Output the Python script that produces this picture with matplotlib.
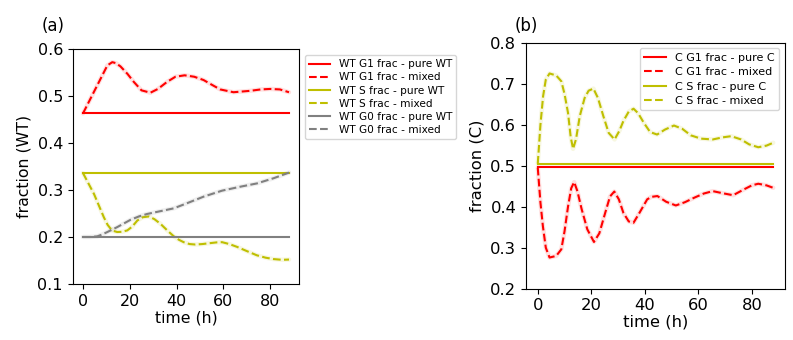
import matplotlib
matplotlib.use("Agg")
import matplotlib.pyplot as plt

# ---------------- data: panel (a) WT ----------------
t_pure = [0, 88]
wt_g1_pure = 0.463
wt_s_pure = 0.336
wt_g0_pure = 0.200

t_wt_g1_mix = [0, 10.4, 12.5, 14, 16, 19, 21.7, 25, 28.8, 32, 35.9, 39.5, 43.4, 47.5,
               51.5, 55, 58.6, 64.3, 71.4, 76, 79.9, 84.1, 88]
wt_g1_mix = [0.463, 0.565, 0.572, 0.570, 0.563, 0.547, 0.530, 0.512, 0.507, 0.515, 0.530,
             0.541, 0.544, 0.541, 0.534, 0.524, 0.514, 0.508, 0.511, 0.514, 0.515, 0.514, 0.508]

t_wt_s_mix = [0, 4.7, 8.9, 10.5, 11.8, 13, 14.6, 16.5, 18.9, 21, 23.2, 25.5, 28.1, 30.5,
              33.1, 36, 38.8, 41, 43, 45.5, 48, 51, 54.4, 57, 59.4, 62.5, 65.8, 70, 74.3,
              78, 81.4, 85, 88]
wt_s_mix = [0.336, 0.2915, 0.242, 0.226, 0.2176, 0.213, 0.2106, 0.211, 0.214, 0.222, 0.235,
            0.242, 0.2437, 0.238, 0.228, 0.214, 0.2014, 0.194, 0.189, 0.185, 0.184, 0.185,
            0.187, 0.1885, 0.189, 0.185, 0.179, 0.170, 0.161, 0.156, 0.153, 0.1515, 0.152]

t_wt_g0_mix = [0, 3, 6.1, 8, 10.4, 14.6, 20.3, 24, 27.4, 33.1, 38.8, 44.5, 51.6, 59.4,
               67.2, 74.3, 81.4, 88]
wt_g0_mix = [0.200, 0.200, 0.2014, 0.205, 0.2106, 0.221, 0.2366, 0.244, 0.249, 0.255, 0.261,
             0.272, 0.286, 0.2986, 0.307, 0.314, 0.325, 0.337]

# ---------------- data: panel (b) C ----------------
c_g1_pure = 0.496
c_s_pure = 0.505

t_c_s_mix = [0, 1, 2, 3, 4.4, 6.9, 8.8, 10, 11.3, 12.3, 13.2, 14.3, 15.7, 17.5, 19, 20.8,
             22.5, 24.5, 26.5, 28.7, 30.5, 32, 34, 35.8, 37.5, 39.6, 42, 44.6, 47.5, 50.9,
             54, 57.2, 61, 65.4, 69, 72.3, 76, 79, 82.4, 85.5, 88]
c_s_mix = [0.505, 0.60, 0.67, 0.71, 0.725, 0.720, 0.706, 0.675, 0.629, 0.57, 0.541, 0.565,
           0.621, 0.665, 0.683, 0.688, 0.665, 0.621, 0.580, 0.564, 0.585, 0.609, 0.632, 0.639,
           0.628, 0.605, 0.582, 0.576, 0.588, 0.598, 0.590, 0.574, 0.566, 0.564, 0.569, 0.572,
           0.564, 0.552, 0.545, 0.549, 0.556]

t_c_g1_mix = [0, 1, 1.9, 3, 4.4, 6.9, 8.8, 10, 11.3, 12.5, 13.6, 14.8, 16.4, 18.5, 21, 23,
              25.2, 27, 28.6, 30.3, 32, 34, 35.8, 38, 40.9, 42.5, 44.7, 48, 51.6, 55, 58.5,
              62, 65.4, 69, 73, 77, 80, 82.4, 85.5, 88]
c_g1_mix = [0.495, 0.41, 0.353, 0.30, 0.276, 0.280, 0.296, 0.34, 0.40, 0.445, 0.46, 0.438,
            0.394, 0.345, 0.314, 0.335, 0.385, 0.425, 0.437, 0.418, 0.385, 0.364, 0.361, 0.385,
            0.418, 0.424, 0.426, 0.412, 0.403, 0.411, 0.422, 0.432, 0.438, 0.433, 0.428, 0.442,
            0.452, 0.456, 0.452, 0.446]

xticks = [0, 20, 40, 60, 80]
yticks_a = [0.1, 0.2, 0.3, 0.4, 0.5, 0.6]
yticks_b = [0.2, 0.3, 0.4, 0.5, 0.6, 0.7, 0.8]

RED = "#ff0000"
YEL = "#bfbf00"
GRY = "#808080"

W, H = 793, 340
fig = plt.figure(figsize=(W / 100, H / 100), dpi=100)


def box(l, t, r, b):
    return [l / W, 1 - b / H, (r - l) / W, (b - t) / H]


def mixed(ax, t, v, c, label):
    ax.plot(t, v, color=c, lw=3.2, alpha=0.12, solid_capstyle="round")
    ax.plot(t, v, color=c, lw=1.5, ls="--", label=label)


# ---------------- panel (a) ----------------
ax1 = fig.add_axes(box(72.7, 49, 299.3, 284))
ax1.plot(t_pure, [wt_g1_pure] * 2, color=RED, lw=1.5, label="WT G1 frac - pure WT")
mixed(ax1, t_wt_g1_mix, wt_g1_mix, RED, "WT G1 frac - mixed")
ax1.plot(t_pure, [wt_s_pure] * 2, color=YEL, lw=1.5, label="WT S frac - pure WT")
mixed(ax1, t_wt_s_mix, wt_s_mix, YEL, "WT S frac - mixed")
ax1.plot(t_pure, [wt_g0_pure] * 2, color=GRY, lw=1.5, label="WT G0 frac - pure WT")
mixed(ax1, t_wt_g0_mix, wt_g0_mix, GRY, "WT G0 frac - mixed")
ax1.set_xlim(-4.4, 92.4)
ax1.set_ylim(0.1, 0.6)
ax1.set_xticks(xticks)
ax1.set_yticks(yticks_a)
ax1.tick_params(labelsize=11.5)
ax1.set_xlabel("time (h)", fontsize=11.3, labelpad=1)
ax1.set_ylabel("fraction (WT)", fontsize=11.3)
ax1.legend(loc="upper left", bbox_to_anchor=(305 / W, 1 - 55 / H),
           bbox_transform=fig.transFigure, borderaxespad=0, fontsize=7.6,
           labelspacing=0.3)
fig.text(42 / W, 1 - 31 / H, "(a)", fontsize=12)

# ---------------- panel (b) ----------------
ax2 = fig.add_axes(box(526, 42.7, 785, 288.7))
ax2.plot(t_pure, [c_g1_pure] * 2, color=RED, lw=1.5, label="C G1 frac - pure C")
mixed(ax2, t_c_g1_mix, c_g1_mix, RED, "C G1 frac - mixed")
ax2.plot(t_pure, [c_s_pure] * 2, color=YEL, lw=1.5, label="C S frac - pure C")
mixed(ax2, t_c_s_mix, c_s_mix, YEL, "C S frac - mixed")
ax2.set_xlim(-4.4, 92.4)
ax2.set_ylim(0.2, 0.8)
ax2.set_xticks(xticks)
ax2.set_yticks(yticks_b)
ax2.tick_params(labelsize=11.8)
ax2.set_xlabel("time (h)", fontsize=11.8, labelpad=1)
ax2.set_ylabel("fraction (C)", fontsize=11.8)
ax2.legend(loc="upper right", fontsize=8, labelspacing=0.4)
fig.text(515 / W, 1 - 31 / H, "(b)", fontsize=12)

fig.savefig("out.png", dpi=100)
